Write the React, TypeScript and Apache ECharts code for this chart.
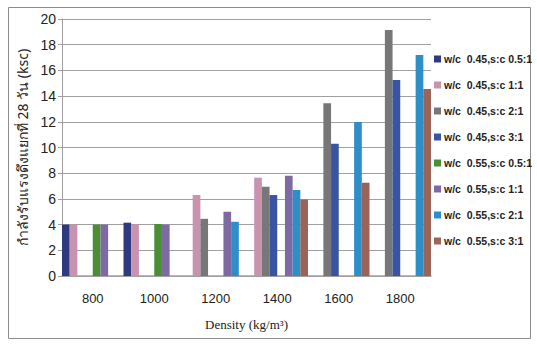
import React, { useEffect, useRef } from "react";
import * as echarts from "echarts";

const categories = ["800", "1000", "1200", "1400", "1600", "1800"];

const seriesNames = [
  "w/c  0.45,s:c 0.5:1",
  "w/c  0.45,s:c 1:1",
  "w/c  0.45,s:c 2:1",
  "w/c  0.45,s:c 3:1",
  "w/c  0.55,s:c 0.5:1",
  "w/c  0.55,s:c 1:1",
  "w/c  0.55,s:c 2:1",
  "w/c  0.55,s:c 3:1",
];

const colors = ["#2f3a7e", "#c993b0", "#777777", "#3a54a4", "#4b8f35", "#7e6aa3", "#2e8ec8", "#9a6558"];

const wc045sc05 = [4.0, 4.15, null, null, null, null];
const wc045sc1 = [4.0, 4.0, 6.3, 7.65, null, null];
const wc045sc2 = [null, null, 4.45, 6.95, 13.45, 19.15];
const wc045sc3 = [null, null, null, 6.3, 10.3, 15.25];
const wc055sc05 = [4.0, 4.05, null, null, null, null];
const wc055sc1 = [4.0, 4.0, 5.0, 7.8, null, null];
const wc055sc2 = [null, null, 4.22, 6.7, 11.98, 17.2];
const wc055sc3 = [null, null, null, 5.95, 7.25, 14.55];

const seriesValues = [wc045sc05, wc045sc1, wc045sc2, wc045sc3, wc055sc05, wc055sc1, wc055sc2, wc055sc3];

const yTicks = [0, 2, 4, 6, 8, 10, 12, 14, 16, 18, 20];

export default function App() {
  const ref = useRef<HTMLDivElement>(null);

  useEffect(() => {
    if (!ref.current) return;
    const chart = echarts.init(ref.current, null, { renderer: "svg" });
    chart.setOption({
      animation: false,
      backgroundColor: "#ffffff",
      graphic: [
        {
          type: "rect",
          shape: { x: 8.5, y: 7.5, width: 522, height: 331 },
          style: { fill: "none", stroke: "#8c8c8c", lineWidth: 1 },
        },
      ],
      grid: { left: 62, top: 19, width: 369, height: 257, containLabel: false },
      legend: {
        orient: "vertical",
        left: 434,
        top: 53,
        padding: 0,
        itemWidth: 7,
        itemHeight: 7,
        itemGap: 14,
        itemStyle: { borderWidth: 0 },
        icon: "rect",
        textStyle: {
          fontFamily: "Liberation Sans, Arial, sans-serif",
          fontWeight: "bold",
          fontSize: 10.5,
          lineHeight: 12,
          color: "#222222",
          padding: [0, 0, 0, -2],
        },
        data: seriesNames,
      },
      xAxis: {
        type: "category",
        data: categories,
        name: "Density (kg/m³)",
        nameLocation: "middle",
        nameGap: 42,
        nameTextStyle: { fontFamily: "Liberation Serif, serif", fontSize: 13, color: "#222222" },
        axisLine: { lineStyle: { color: "#a0a0a0", width: 1.5 } },
        axisTick: { show: false },
        axisLabel: {
          fontFamily: "Liberation Sans, Arial, sans-serif",
          fontSize: 13,
          color: "#222222",
          margin: 16,
        },
      },
      yAxis: {
        type: "value",
        min: 0,
        max: 20,
        interval: 2,
        name: "กำลังรับแรงดึงแยกที่ 28 วัน (ksc)",
        nameLocation: "middle",
        nameGap: 30,
        nameRotate: 90,
        nameTextStyle: { fontFamily: "Noto Sans, sans-serif", fontSize: 14, color: "#222222" },
        axisLine: { show: true, lineStyle: { color: "#a0a0a0" } },
        axisTick: { show: true, length: 4, lineStyle: { color: "#a0a0a0" } },
        splitLine: { lineStyle: { color: "#a0a0a0", width: 1.2 } },
        axisLabel: {
          fontFamily: "Liberation Sans, Arial, sans-serif",
          fontSize: 14,
          color: "#222222",
          margin: 6,
          formatter: (v: number) => (yTicks.includes(v) ? String(v) : ""),
        },
      },
      series: seriesNames.map((name, i) => ({
        name,
        type: "bar",
        data: seriesValues[i],
        itemStyle: { color: colors[i] },
        barGap: "0%",
        barCategoryGap: "0%",
      })),
    });
    return () => chart.dispose();
  }, []);

  return (
    <div
      ref={ref}
      style={{ position: "fixed", left: 0, top: 0, width: 537, height: 345 }}
    />
  );
}
